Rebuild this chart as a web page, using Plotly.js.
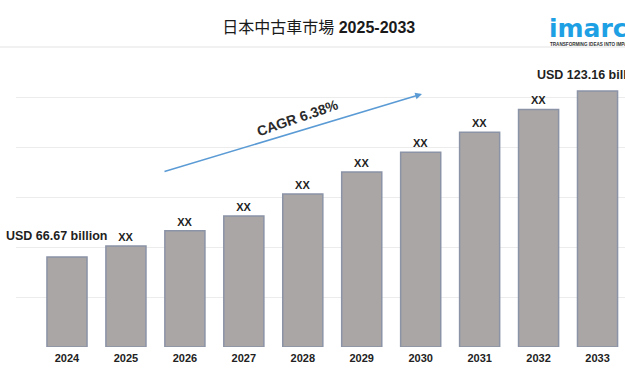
<!DOCTYPE html>
<html>
<head>
<meta charset="utf-8">
<script src="https://cdn.plot.ly/plotly-3.0.1.min.js"></script>
<style>html,body{margin:0;padding:0;background:#fff;}#chart{width:625px;height:375px;}</style>
</head>
<body>
<div id="chart"></div>
<script>
const years = ['2024','2025','2026','2027','2028','2029','2030','2031','2032','2033'];
const values = [66.67, 70.4, 75.6, 80.6, 88.1, 95.6, 102.3, 109.1, 116.9, 123.16];
const barLabels = ['', 'XX', 'XX', 'XX', 'XX', 'XX', 'XX', 'XX', 'XX', ''];
const axisBase = 36.04;
const gridStep = 17.015;
const titleText = '日本中古車市場 <b>2025-2033</b>';
const startLabel = 'USD 66.67 billion';
const endLabel = 'USD 123.16 billion';
const cagrLabel = 'CAGR 6.38%';

const FONT = 'Liberation Sans, Arial, sans-serif';

const trace = {
  type: 'bar',
  x: years,
  y: values.map(v => v - axisBase),
  base: axisBase,
  text: barLabels,
  textposition: 'outside',
  textfont: {family: FONT, size: 11, color: '#1f1f1f', weight: 'bold'},
  cliponaxis: false,
  marker: {color: '#aaa6a6', line: {color: '#8b93a6', width: 1.5}},
  hoverinfo: 'none'
};

const layout = {
  width: 625, height: 375,
  margin: {l: 16, r: 0, t: 60, b: 28},
  paper_bgcolor: '#ffffff', plot_bgcolor: '#ffffff',
  showlegend: false,
  bargap: 0.32,
  title: {
    text: titleText,
    font: {family: 'Liberation Sans, Noto Sans CJK JP, sans-serif', size: 16, color: '#1a1a1a'},
    x: 0.51, xanchor: 'center', xref: 'container',
    y: 1 - 27/375, yanchor: 'middle', yref: 'container'
  },
  xaxis: {
    type: 'category',
    range: [-0.865, 9.466],
    showgrid: false, zeroline: false, showline: false, ticks: '',
    ticklabelstandoff: 3,
    tickfont: {family: FONT, size: 11, color: '#222222', weight: 'bold'}
  },
  yaxis: {
    range: [axisBase, axisBase + 287 * 0.3403],
    tick0: axisBase, dtick: gridStep,
    showgrid: true, gridcolor: '#ececec', gridwidth: 1,
    zeroline: false, showticklabels: false, showline: false, ticks: ''
  },
  shapes: [
    {type: 'line', xref: 'paper', yref: 'paper', x0: -16/609, x1: 1, y0: (347-47)/287, y1: (347-47)/287,
     line: {color: '#e3e3e3', width: 1}}
  ],
  annotations: [
    {xref: 'paper', yref: 'paper', x: (56-16)/609, y: (347-236)/287, text: '<b>' + startLabel + '</b>',
     showarrow: false, xanchor: 'center', yanchor: 'middle',
     font: {family: FONT, size: 12.5, color: '#1f1f1f'}},
    {xref: 'paper', yref: 'paper', x: (535-16)/609, y: (347-75)/287, text: '<b>' + endLabel + '</b>',
     showarrow: false, xanchor: 'left', yanchor: 'middle',
     font: {family: FONT, size: 12.5, color: '#1f1f1f'}},
    {xref: 'paper', yref: 'paper', x: (297-16)/609, y: (347-118)/287, text: '<b>' + cagrLabel + '</b>',
     showarrow: false, xanchor: 'center', yanchor: 'middle', textangle: -19,
     font: {family: FONT, size: 14, color: '#2b2b2b'}},
    {xref: 'paper', yref: 'paper', x: (422-16)/609, y: (347-94)/287, text: '',
     showarrow: true, ax: -259, ay: 78, arrowhead: 2, arrowsize: 0.9, arrowwidth: 1.5,
     arrowcolor: '#5b9bd5', standoff: 0},
    {xref: 'paper', yref: 'paper', x: (547-16)/609, y: (347-28)/287, text: '<b>imarc</b>',
     showarrow: false, xanchor: 'left', yanchor: 'middle',
     font: {family: 'DejaVu Sans, sans-serif', size: 25, color: '#1ea0e4'}},
    {xref: 'paper', yref: 'paper', x: (548-16)/609, y: (347-44.5)/287, text: '<b>TRANSFORMING IDEAS INTO IMPACT</b>',
     showarrow: false, xanchor: 'left', yanchor: 'middle',
     font: {family: FONT, size: 4.6, color: '#333333'}}
  ]
};

Plotly.newPlot('chart', [trace], layout, {staticPlot: true, displayModeBar: false});
</script>
</body>
</html>
